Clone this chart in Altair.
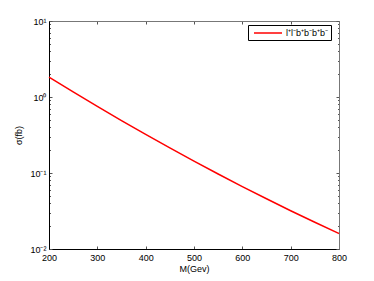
import altair as alt
import pandas as pd

M = [200, 250, 300, 350, 400, 450, 500, 550, 600, 650, 700, 750, 800]
sigma = [1.828, 1.167, 0.752, 0.4896, 0.3219, 0.2137, 0.1432, 0.0970, 0.0663, 0.0458, 0.0319, 0.02247, 0.01599]
series_name = "l⁺l⁻b⁺b⁻b⁺b⁻"
x_ticks = [200, 300, 400, 500, 600, 700, 800]
y_ticks = [d * m for d in [0.01, 0.1, 1] for m in range(1, 10)] + [10]

df = pd.DataFrame({"M": M, "sigma": sigma, "series": [series_name] * len(M)})

FONT = "Liberation Sans"
major_test = "abs(log(datum.value)/LN10 - round(log(datum.value)/LN10)) < 0.001"
y_label_expr = (
    "abs(log(datum.value)/LN10 - round(log(datum.value)/LN10)) > 0.001 ? '' : "
    "datum.value > 5 ? '10¹' : datum.value > 0.5 ? '10⁰' : "
    "datum.value > 0.05 ? '10⁻¹' : '10⁻²'"
)

xscale = alt.Scale(domain=[200, 800], nice=False, zero=False)
yscale = alt.Scale(type="log", domain=[0.01, 10], nice=False)

line = alt.Chart(df).mark_line(strokeWidth=1.5, interpolate="monotone").encode(
    x=alt.X("M:Q", scale=xscale, axis=alt.Axis(
        orient="bottom", values=x_ticks, title="M(Gev)", domain=True, domainColor="black",
        tickSize={"expr": "-3"}, tickColor="#555", labelPadding=7, labelFontSize=9,
        labelFlush=False, labelFont=FONT, titleFont=FONT, titleFontSize=9,
        titleFontWeight="normal", titlePadding=2, grid=False, labelColor="black",
        titleColor="black")),
    y=alt.Y("sigma:Q", scale=yscale, axis=alt.Axis(
        orient="left", values=y_ticks, labelExpr=y_label_expr, title="σ(fb)",
        domain=True, domainColor="black", labelFlush=False,
        tickSize={"condition": {"test": major_test, "value": -3}, "value": -1.5},
        tickColor="#555", labelPadding=6, labelFontSize=9, labelFont=FONT,
        titleFont=FONT, titleFontSize=9, titleFontWeight="normal", titlePadding=6,
        grid=False, labelColor="black", titleColor="black")),
    color=alt.Color("series:N", scale=alt.Scale(domain=[series_name], range=["#ff0000"]),
                    legend=alt.Legend(title=None, orient="none", legendX=199, legendY=4,
                                      strokeColor="black", fillColor="white", padding=2,
                                      symbolType="M-2.8,0H2.8", symbolSize=100,
                                      symbolOffset=12, symbolStrokeWidth=1.5,
                                      labelFont=FONT, labelFontSize=9,
                                      labelColor="black", labelOffset=12)),
)

frame = alt.Chart(df).mark_line(opacity=0).encode(
    x=alt.X("M:Q", scale=xscale, axis=alt.Axis(
        orient="top", values=x_ticks, labels=False, title=None, domainColor="#777",
        tickSize={"expr": "-3"}, tickColor="#555", grid=False)),
    y=alt.Y("sigma:Q", scale=yscale, axis=alt.Axis(
        orient="right", values=y_ticks, labels=False, title=None, domainColor="#777",
        tickSize={"condition": {"test": major_test, "value": -3}, "value": -1.5},
        tickColor="#555", grid=False)),
)

chart = alt.layer(line, frame).resolve_axis(x="independent", y="independent").properties(
    width=290, height=228,
    autosize=alt.AutoSizeParams(type="none"),
    padding={"left": 41, "top": 13, "right": 20, "bottom": 30},
).configure_view(stroke=None).configure(background="white")

chart.save("out.html", embed_options={"renderer": "svg", "actions": False})
